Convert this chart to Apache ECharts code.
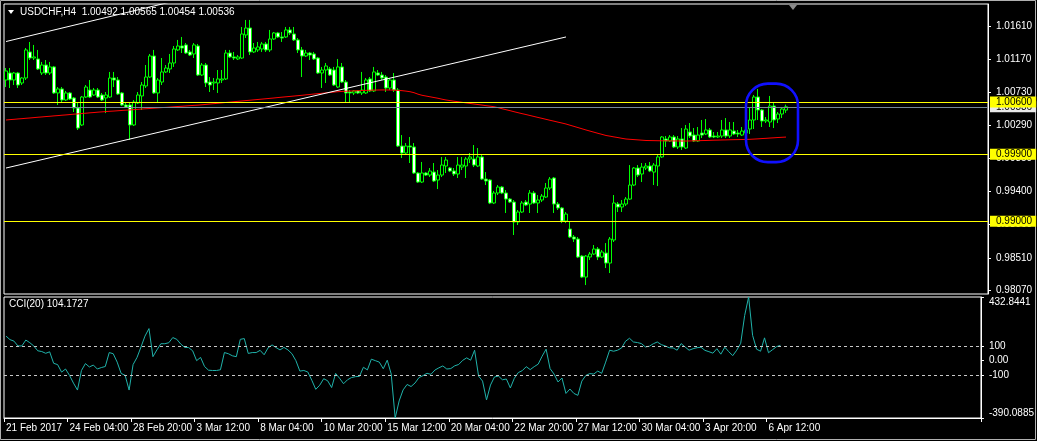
<!DOCTYPE html>
<html><head><meta charset="utf-8">
<script src="https://cdn.jsdelivr.net/npm/echarts@6/dist/echarts.min.js"></script>
<style>html,body{margin:0;padding:0;background:#000;overflow:hidden}#c{width:1037px;height:441px}</style>
</head><body><div id="c"></div>
<script>
const symbolName = 'USDCHF,H4';
const dateLabels = ['21 Feb 2017','24 Feb 04:00','28 Feb 20:00','3 Mar 12:00','8 Mar 04:00','10 Mar 20:00','15 Mar 12:00','20 Mar 04:00','22 Mar 20:00','27 Mar 12:00','30 Mar 04:00','3 Apr 20:00','6 Apr 12:00'];
const labelStep = 16;
const totalSlots = 246;

const opens = [
1.00895,1.00989,1.00895,1.00989,1.00855,1.00922,1.01271,1.01190,1.01177,1.00989,
1.01096,1.00989,1.01070,1.00721,1.00775,1.00627,1.00721,1.00654,1.00520,1.00292,
1.00667,1.00761,1.00694,1.00761,1.00694,1.00654,1.00667,1.00922,1.00895,1.00721,
1.00560,1.00560,1.00292,1.00587,1.00681,1.00815,1.00935,1.01217,1.00721,1.00868,
1.01003,1.01043,1.01123,1.01298,1.01351,1.01365,1.01271,1.01244,1.01351,1.00962,
1.01096,1.00868,1.00855,1.00855,1.00895,1.00909,1.01257,1.01204,1.01177,1.01190,
1.01499,1.01592,1.01271,1.01298,1.01311,1.01378,1.01298,1.01445,1.01526,1.01472,
1.01472,1.01566,1.01512,1.01432,1.01298,1.01217,1.01257,1.01244,1.01190,1.00989,
1.01029,1.01043,1.01029,1.00801,1.01070,1.00868,1.00734,1.00721,1.00748,1.00721,
1.00721,1.00909,1.00748,1.00989,1.00962,1.00935,1.00788,1.00895,1.00761,1.00010,
0.99916,1.00010,0.99997,0.99648,0.99527,0.99648,0.99621,0.99661,0.99554,0.99621,
0.99742,0.99715,0.99675,0.99635,0.99728,0.99742,0.99836,0.99836,0.99742,0.99863,
0.99567,0.99554,0.99246,0.99380,0.99460,0.99380,0.99299,0.99259,0.98991,0.99125,
0.99259,0.99232,0.99380,0.99246,0.99286,0.99326,0.99447,0.99581,0.99232,0.99179,
0.99004,0.98897,0.98790,0.98763,0.98535,0.98253,0.98522,0.98562,0.98629,0.98522,
0.98575,0.98441,0.98750,0.99232,0.99192,0.99232,0.99299,0.99487,0.99715,0.99635,
0.99715,0.99742,0.99661,0.99742,0.99863,1.00104,1.00077,1.00131,0.99997,1.00104,
0.99983,1.00198,1.00157,1.00077,1.00184,1.00171,1.00225,1.00144,1.00131,1.00144,
1.00225,1.00144,1.00211,1.00184,1.00157,1.00184,1.00238,1.00359,1.00667,1.00493,
1.00345,1.00332,1.00546,1.00372,1.00439,1.00492];

const closes = [
1.01016,1.00895,1.00989,1.00828,1.00922,1.01298,1.01190,1.01204,1.01043,1.01096,
1.00989,1.01070,1.00721,1.00775,1.00627,1.00721,1.00640,1.00520,1.00251,1.00667,
1.00801,1.00667,1.00761,1.00667,1.00627,1.00694,1.00922,1.00895,1.00707,1.00560,
1.00533,1.00292,1.00600,1.00694,1.00828,1.00935,1.01217,1.00721,1.00895,1.01003,
1.01056,1.01123,1.01311,1.01351,1.01324,1.01257,1.01230,1.01365,1.00962,1.01096,
1.00855,1.00828,1.00868,1.00909,1.00909,1.01257,1.01204,1.01190,1.01204,1.01512,
1.01592,1.01271,1.01324,1.01338,1.01378,1.01298,1.01445,1.01526,1.01472,1.01458,
1.01566,1.01526,1.01432,1.01298,1.01217,1.01257,1.01230,1.01177,1.00989,1.01029,
1.01083,1.00962,1.00828,1.01070,1.00868,1.00721,1.00721,1.00748,1.00721,1.00761,
1.00895,1.00748,1.01003,1.00962,1.00922,1.00788,1.00895,1.00761,1.00010,0.99916,
1.00010,0.99997,0.99648,0.99527,0.99648,0.99621,0.99675,0.99541,0.99621,0.99755,
0.99822,0.99675,0.99635,0.99755,0.99755,0.99836,0.99863,0.99755,0.99863,0.99567,
0.99541,0.99246,0.99380,0.99460,0.99380,0.99299,0.99259,0.98991,0.99125,0.99246,
0.99219,0.99380,0.99246,0.99286,0.99339,0.99447,0.99567,0.99232,0.99179,0.99004,
0.99098,0.98790,0.98763,0.98522,0.98253,0.98535,0.98562,0.98629,0.98522,0.98589,
0.98441,0.98763,0.99246,0.99192,0.99232,0.99299,0.99487,0.99715,0.99621,0.99728,
0.99742,0.99675,0.99755,0.99863,1.00131,1.00077,1.00131,0.99997,1.00104,0.99997,
1.00238,1.00144,1.00077,1.00157,1.00157,1.00225,1.00131,1.00131,1.00144,1.00225,
1.00144,1.00225,1.00171,1.00171,1.00211,1.00225,1.00359,1.00667,1.00493,1.00345,
1.00359,1.00546,1.00359,1.00439,1.00506,1.00536];

const highs = [
1.01056,1.01056,1.01003,1.01003,1.00935,1.01324,1.01405,1.01365,1.01298,1.01137,
1.01163,1.01137,1.01083,1.00801,1.00801,1.00748,1.00734,1.00667,1.00587,1.00681,
1.00828,1.00895,1.00788,1.00788,1.00721,1.00734,1.01003,1.01003,1.00935,1.00734,
1.00600,1.00600,1.00627,1.00734,1.00868,1.01096,1.01244,1.01298,1.00922,1.01190,
1.01096,1.01244,1.01351,1.01432,1.01472,1.01391,1.01298,1.01391,1.01378,1.01123,
1.01123,1.00935,1.00922,1.01029,1.01029,1.01298,1.01298,1.01271,1.01230,1.01606,
1.01700,1.01700,1.01391,1.01405,1.01405,1.01405,1.01566,1.01539,1.01539,1.01539,
1.01606,1.01606,1.01606,1.01458,1.01338,1.01298,1.01271,1.01271,1.01204,1.01070,
1.01123,1.01070,1.01070,1.01177,1.01123,1.00895,1.00761,1.00761,1.00761,1.01003,
1.00922,1.00935,1.01070,1.01029,1.01003,1.00962,1.00922,1.00989,1.00788,1.00157,
1.00050,1.00131,1.00050,0.99661,0.99796,0.99661,0.99715,0.99782,0.99688,0.99863,
0.99863,0.99728,0.99715,0.99863,0.99863,0.99863,0.99916,1.00023,0.99983,0.99889,
0.99661,0.99567,0.99407,0.99487,0.99473,0.99420,0.99313,0.99286,0.99152,0.99273,
0.99286,0.99420,0.99407,0.99353,0.99366,0.99514,0.99594,0.99594,0.99259,0.99192,
0.99125,0.99004,0.98817,0.98790,0.98548,0.98548,0.98589,0.98683,0.98656,0.98616,
0.98709,0.98790,0.99353,0.99259,0.99286,0.99326,0.99755,0.99728,0.99755,0.99782,
0.99782,0.99796,0.99782,0.99889,1.00144,1.00144,1.00157,1.00157,1.00144,1.00251,
1.00292,1.00318,1.00251,1.00265,1.00359,1.00372,1.00251,1.00198,1.00198,1.00359,
1.00385,1.00332,1.00332,1.00225,1.00265,1.00265,1.00520,1.00694,1.00775,1.00506,
1.00399,1.00681,1.00587,1.00466,1.00533,1.00565];

const lows = [
1.00801,1.00788,1.00828,1.00788,1.00828,1.00895,1.01163,1.01163,1.01029,1.00962,
1.00962,1.00962,1.00707,1.00560,1.00600,1.00614,1.00627,1.00466,1.00225,1.00278,
1.00654,1.00654,1.00681,1.00654,1.00614,1.00452,1.00654,1.00801,1.00694,1.00546,
1.00520,1.00091,1.00278,1.00573,1.00493,1.00788,1.00922,1.00707,1.00600,1.00828,
1.00989,1.00989,1.01070,1.01284,1.01257,1.01244,1.01217,1.01190,1.00949,1.00949,
1.00801,1.00734,1.00761,1.00721,1.00855,1.00895,1.01190,1.01163,1.01163,1.01177,
1.01458,1.01230,1.01257,1.01271,1.01271,1.01271,1.01271,1.01432,1.01458,1.01405,
1.01458,1.01499,1.01418,1.01257,1.00935,1.01204,1.01163,1.01163,1.00976,1.00788,
1.00855,1.00949,1.00815,1.00788,1.00855,1.00600,1.00600,1.00694,1.00707,1.00694,
1.00707,1.00734,1.00734,1.00949,1.00895,1.00734,1.00761,1.00734,0.99997,0.99849,
0.99903,0.99782,0.99635,0.99514,0.99514,0.99608,0.99594,0.99527,0.99433,0.99594,
0.99648,0.99661,0.99608,0.99581,0.99688,0.99581,0.99782,0.99728,0.99728,0.99554,
0.99487,0.99232,0.99232,0.99353,0.99366,0.99112,0.99246,0.98817,0.98951,0.99112,
0.99205,0.99112,0.99232,0.99112,0.99259,0.99313,0.99420,0.99112,0.99152,0.98977,
0.98977,0.98776,0.98723,0.98508,0.98240,0.98146,0.98481,0.98548,0.98481,0.98508,
0.98374,0.98307,0.98723,0.99125,0.99125,0.99205,0.99286,0.99473,0.99594,0.99527,
0.99688,0.99661,0.99487,0.99473,0.99849,0.99997,1.00064,0.99983,0.99970,0.99957,
0.99970,1.00117,1.00064,1.00064,1.00117,1.00157,1.00117,1.00117,1.00117,1.00117,
1.00117,1.00117,1.00157,1.00131,1.00144,1.00157,1.00171,1.00238,1.00359,1.00265,
1.00318,1.00265,1.00251,1.00318,1.00385,1.00454];

const maValues = [
1.00359,1.00364,1.00368,1.00373,1.00377,1.00382,1.00386,1.00391,1.00396,1.00400,
1.00405,1.00409,1.00414,1.00418,1.00423,1.00427,1.00432,1.00437,1.00441,1.00446,
1.00450,1.00455,1.00459,1.00464,1.00468,1.00472,1.00476,1.00479,1.00483,1.00487,
1.00491,1.00494,1.00498,1.00502,1.00506,1.00510,1.00513,1.00517,1.00521,1.00525,
1.00528,1.00532,1.00536,1.00540,1.00543,1.00547,1.00551,1.00555,1.00558,1.00563,
1.00568,1.00573,1.00578,1.00583,1.00588,1.00594,1.00599,1.00604,1.00609,1.00614,
1.00619,1.00624,1.00629,1.00634,1.00639,1.00644,1.00649,1.00654,1.00660,1.00665,
1.00670,1.00675,1.00680,1.00685,1.00690,1.00696,1.00701,1.00707,1.00712,1.00717,
1.00723,1.00728,1.00733,1.00738,1.00742,1.00745,1.00747,1.00749,1.00752,1.00754,
1.00756,1.00758,1.00760,1.00761,1.00762,1.00762,1.00761,1.00759,1.00756,1.00752,
1.00746,1.00738,1.00725,1.00705,1.00690,1.00680,1.00670,1.00660,1.00650,1.00638,
1.00627,1.00619,1.00611,1.00604,1.00596,1.00588,1.00581,1.00573,1.00566,1.00559,
1.00551,1.00544,1.00537,1.00524,1.00510,1.00497,1.00484,1.00470,1.00457,1.00444,
1.00432,1.00419,1.00406,1.00393,1.00381,1.00368,1.00355,1.00343,1.00330,1.00318,
1.00305,1.00289,1.00273,1.00257,1.00241,1.00225,1.00210,1.00195,1.00180,1.00166,
1.00151,1.00142,1.00132,1.00123,1.00113,1.00104,1.00100,1.00096,1.00092,1.00088,
1.00084,1.00083,1.00082,1.00081,1.00080,1.00080,1.00079,1.00078,1.00078,1.00077,
1.00077,1.00078,1.00080,1.00081,1.00083,1.00084,1.00086,1.00088,1.00089,1.00091,
1.00092,1.00094,1.00095,1.00096,1.00097,1.00099,1.00100,1.00103,1.00106,1.00110,
1.00113,1.00117,1.00120,1.00124,1.00127,1.00130];

const cciValues = [
167,143,133,100,100,140,122,100,67,62,
50,60,-18,-27,-78,-57,-100,-153,-200,-67,
-20,-43,-30,-57,-47,-40,55,47,-10,-87,
-100,-200,-27,22,93,167,218,27,73,115,
115,122,157,145,113,90,89,67,0,22,
-40,-65,-67,-67,-62,55,47,33,27,145,
150,49,55,55,70,40,87,107,89,73,
90,73,47,0,-71,-67,-77,-133,-195,-167,
-123,-137,-183,-87,-120,-157,-130,-115,-109,-107,
-45,-63,10,0,-10,-55,3,-91,-390.0885,-274,
-199,-162,-176,-152,-115,-102,-86,-93,-64,-49,
-36,-57,-54,-35,-26,2,19,3,71,-105,
-139,-267,-166,-111,-105,-130,-125,-186,-120,-81,
-68,-41,-61,-41,-24,30,78,-54,-91,-145,
-118,-223,-193,-223,-236,-139,-101,-88,-91,-71,
-86,-10,71,64,71,86,132,152,127,123,
116,93,98,115,127,109,100,88,86,71,
116,93,71,81,88,91,70,61,51,81,
44,91,61,34,71,118,307,432.8441,172,78,
64,155,54,74,95,104.1727];

const priceTicks = [1.01610,1.01170,1.00730,1.00290,0.99850,0.99400,0.98960,0.98510,0.98070];
const priceMin = 0.98026, priceMax = 1.01914;
const cciTicks = [432.8441,100,0,-100,-390.0885];
const cciTickText = ['432.8441','100','0.00','-100','-390.0885'];
const cciMin = -390.0885, cciMax = 432.8441;
const cciLevels = [100,-100];
const levelLines = [1.00600,0.99900,0.99000];
const bidPrice = 1.00536;
const channelLower = [[0,0.99715],[140,1.01472]];
const channelUpper = [[0,1.01411],[60,1.02184]];
const highlightBox = [[185,1.00846,198,0.99794]];

const FONT = '"Liberation Sans", Arial, sans-serif';
const n = opens.length;
const cats = Array.from({length: totalSlots}, (_, i) => String(i));
const candles = opens.map((o, i) => [o, closes[i], lows[i], highs[i]]);
const showDate = (idx) => idx % labelStep === 0 && idx / labelStep < dateLabels.length;

const chart = echarts.init(document.getElementById('c'), null, {renderer: 'canvas'});
const last = n - 1;
const tagLabel = (bg) => ({show: true, position: 'end', distance: 2, formatter: p => Number(p.value).toFixed(5), color: '#000', backgroundColor: bg, padding: [1, 4, 0, 6], fontSize: 10, fontFamily: FONT});
chart.setOption({
  animation: false,
  backgroundColor: '#000',
  textStyle: {fontFamily: FONT},
  grid: [
    {left: 4, top: 4, width: 984, height: 290, show: true, borderColor: '#fff', borderWidth: 1, backgroundColor: '#000'},
    {left: 4, top: 297, width: 984, height: 121, show: true, borderColor: '#fff', borderWidth: 1, backgroundColor: '#000'}
  ],
  xAxis: [
    {type: 'category', gridIndex: 0, data: cats, boundaryGap: true, axisLine: {show: false, onZero: false}, axisTick: {show: false}, axisLabel: {show: false}, splitLine: {show: false}},
    {type: 'category', gridIndex: 1, data: cats, boundaryGap: true, position: 'bottom',
     axisLine: {show: true, onZero: false, lineStyle: {color: '#fff'}},
     axisTick: {show: true, interval: showDate, length: 4, lineStyle: {color: '#fff'}},
     axisLabel: {show: true, interval: showDate, color: '#fff', fontSize: 10, fontFamily: FONT, align: 'left', margin: 5,
       formatter: (v, idx) => dateLabels[idx / labelStep] || ''},
     splitLine: {show: false}}
  ],
  yAxis: [
    {type: 'value', gridIndex: 0, position: 'right', min: priceMin, max: priceMax, splitLine: {show: false},
     axisLine: {show: true, onZero: false, lineStyle: {color: '#fff'}},
     axisTick: {show: true, length: 3, customValues: priceTicks, lineStyle: {color: '#fff'}},
     axisLabel: {show: true, customValues: priceTicks, color: '#fff', fontSize: 10, fontFamily: FONT, margin: 8, formatter: v => v.toFixed(5)}},
    {type: 'value', gridIndex: 1, position: 'right', min: cciMin, max: cciMax, splitLine: {show: false},
     axisLine: {show: true, onZero: false, lineStyle: {color: '#fff'}},
     axisTick: {show: true, length: 3, customValues: cciTicks, lineStyle: {color: '#fff'}},
     axisLabel: {show: true, customValues: cciTicks, color: '#fff', fontSize: 10, fontFamily: FONT, margin: 8,
       verticalAlignMaxLabel: 'bottom', verticalAlignMinLabel: 'top',
       formatter: v => { const k = cciTicks.findIndex(t => Math.abs(t - v) < 1e-6); return k >= 0 ? cciTickText[k] : ''; }}}
  ],
  graphic: [
    {type: 'rect', shape: {x: 0.5, y: 0.5, width: 1035, height: 439}, style: {fill: 'none', stroke: '#b0b0b0', lineWidth: 1}, silent: true},
    {type: 'polygon', shape: {points: [[8, 10], [14, 10], [11, 14]]}, style: {fill: '#fff'}, silent: true},
    {type: 'text', left: 20, top: 7, style: {text: symbolName + '  ' + [opens[last], highs[last], lows[last], closes[last]].map(v => v.toFixed(5)).join(' '), fill: '#fff', font: '10px ' + FONT}, silent: true},
    {type: 'text', left: 9, top: 299, style: {text: 'CCI(20) ' + cciValues[last].toFixed(4), fill: '#fff', font: '10px ' + FONT}, silent: true},
    {type: 'polygon', shape: {points: [[789, 5], [797, 5], [793, 10]]}, style: {fill: '#8a8a8a'}, silent: true}
  ],
  series: [
    {type: 'candlestick', xAxisIndex: 0, yAxisIndex: 0, data: candles, barWidth: 3,
     itemStyle: {color: '#000', color0: '#fff', borderColor: '#00ff00', borderColor0: '#00ff00', borderColorDoji: '#00ff00', borderWidth: 1},
     markLine: {silent: true, symbol: ['none', 'none'], animation: false, precision: 5,
       data: [
         {yAxis: bidPrice, lineStyle: {color: '#778899', width: 1, type: 'solid'}, label: tagLabel('#e8e8e8')}
       ].concat(levelLines.map(v => ({yAxis: v, lineStyle: {color: '#ffff00', width: 1, type: 'solid'}, label: tagLabel('#ffff00')})))}},
    {type: 'line', xAxisIndex: 0, yAxisIndex: 0, data: maValues, symbol: 'none', lineStyle: {color: '#ff0000', width: 1}, z: 3},
    {type: 'line', xAxisIndex: 0, yAxisIndex: 0, data: channelLower, symbol: 'none', clip: true, lineStyle: {color: '#fff', width: 1}, z: 4},
    {type: 'line', xAxisIndex: 0, yAxisIndex: 0, data: channelUpper, symbol: 'none', clip: true, lineStyle: {color: '#fff', width: 1}, z: 4},
    {type: 'custom', xAxisIndex: 0, yAxisIndex: 0, data: highlightBox, encode: {x: [0, 2], y: [1, 3]}, z: 5,
     renderItem: (params, api) => {
       const a = api.coord([api.value(0), api.value(1)]);
       const b = api.coord([api.value(2), api.value(3)]);
       const w = b[0] - a[0], h = b[1] - a[1];
       return {type: 'rect', shape: {x: a[0], y: a[1], width: w, height: h, r: Math.min(w, h) * 0.42}, style: {fill: 'none', stroke: '#1010ff', lineWidth: 2.6}};
     }},
    {type: 'line', xAxisIndex: 1, yAxisIndex: 1, data: cciValues, symbol: 'none', lineStyle: {color: '#20b2aa', width: 1},
     markLine: {silent: true, symbol: ['none', 'none'], animation: false, precision: 4, label: {show: false},
       lineStyle: {color: '#c8c8c8', width: 1, type: [3, 3]}, data: cciLevels.map(v => ({yAxis: v}))}}
  ]
});
</script></body></html>
